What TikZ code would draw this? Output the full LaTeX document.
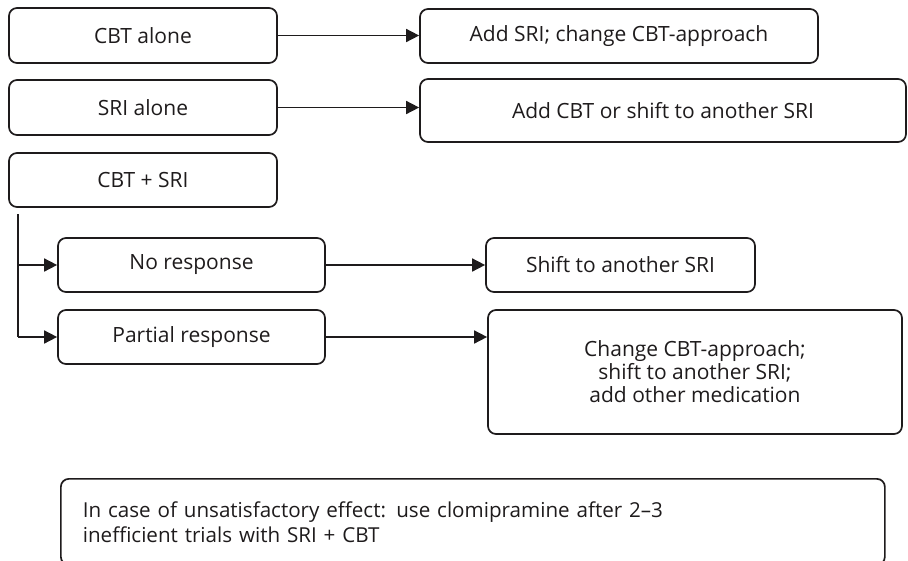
\documentclass[tikz,border=0pt]{standalone}
\usepackage{fontspec}
\setmainfont{Open Sans}
\usetikzlibrary{arrows.meta}
\definecolor{ink}{HTML}{1E1B1C}
\begin{document}
\begin{tikzpicture}[x=1pt,y=-1pt,
  font=\fontsize{21}{23}\selectfont,
  every node/.style={text=ink},
  box/.style={draw=ink,line width=1.7pt,rounded corners=8pt,inner sep=0pt,align=center},
  arr/.style={draw=ink,line width=1.6pt,-{Triangle[length=13pt,width=13pt]}},
  link/.style={draw=ink,line width=1.6pt}]
\useasboundingbox (0,0) rectangle (908,560);
% first line of treatment
\node[box,minimum width=268pt,minimum height=55pt] (cbt) at (143,35.5) {CBT alone};
\node[box,minimum width=398pt,minimum height=54pt] (addsri) at (619,36) {Add SRI; change CBT-approach};
\node[box,minimum width=268pt,minimum height=55pt] (sri) at (143,107.5) {SRI alone};
\node[box,minimum width=486pt,minimum height=63pt] (addcbt) at (663,110.5) {Add CBT or shift to another SRI};
\node[box,minimum width=268pt,minimum height=54pt] (both) at (143,180) {CBT + SRI};
% responses to combined treatment
\node[box,minimum width=267pt,minimum height=54pt] (nor) at (191.5,265) {No response};
\node[box,minimum width=269pt,minimum height=54pt] (shift) at (620.5,265) {Shift to another SRI};
\node[box,minimum width=267pt,minimum height=54pt] (part) at (191.5,337) {Partial response};
\node[box,minimum width=414pt,minimum height=124pt] (change) at (695,372)
  {Change CBT-approach;\\ shift to another SRI;\\ add other medication};
% closing note
\node[box,anchor=north west,minimum width=824pt,minimum height=86pt,
  text width=780pt,inner xsep=22pt,align=left,
  font=\fontsize{20.6}{25}\selectfont] (note) at (60,478)
  {In case of unsatisfactory effect: use clomipramine after 2--3\\ inefficient trials with SRI + CBT};
% connectors
\draw[arr] (cbt.east) -- (cbt.east -| addsri.west);
\draw[arr] (sri.east) -- (sri.east -| addcbt.west);
\coordinate (split) at (18,214);
\draw[link] (split) -- (split |- part.west);
\draw[arr] (split |- nor.west) -- (nor.west);
\draw[arr] (split |- part.west) -- (part.west);
\draw[arr] (nor.east) -- (nor.east -| shift.west);
\draw[arr] (part.east) -- (part.east -| change.west);
\end{tikzpicture}
\end{document}
